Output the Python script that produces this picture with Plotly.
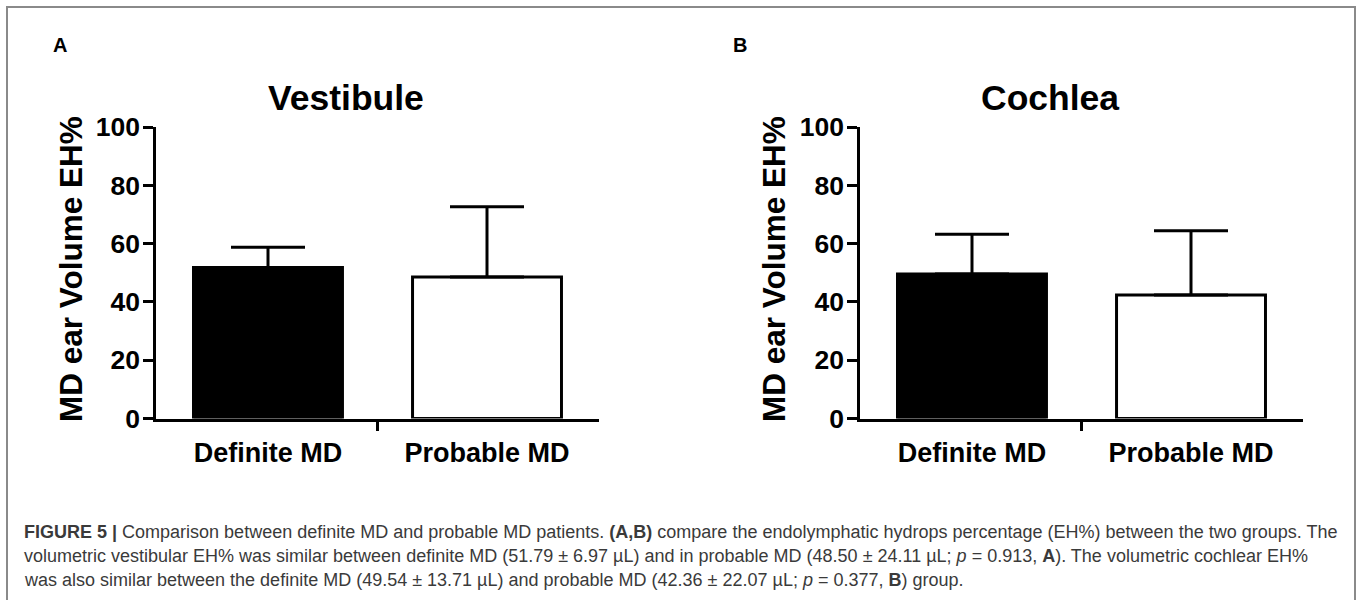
import plotly.graph_objects as go

# ---------------- data ----------------
categories = ["Definite MD", "Probable MD"]
vestibule_mean = [51.79, 48.50]
vestibule_sd = [6.97, 24.11]
cochlea_mean = [49.54, 42.36]
cochlea_sd = [13.71, 22.07]
y_ticks = [0, 20, 40, 60, 80, 100]
panel_titles = ["Vestibule", "Cochlea"]
panel_letters = ["A", "B"]
y_title = "MD ear Volume EH%"

caption_lines = [
    "<b>FIGURE 5 |</b> Comparison between definite MD and probable MD patients. <b>(A,B)</b> compare the endolymphatic hydrops percentage (EH%) between the two groups. The",
    "volumetric vestibular EH% was similar between definite MD (51.79 ± 6.97 µL) and in probable MD (48.50 ± 24.11 µL; <i>p</i> = 0.913, <b>A</b>). The volumetric cochlear EH%",
    "was also similar between the definite MD (49.54 ± 13.71 µL) and probable MD (42.36 ± 22.07 µL; <i>p</i> = 0.377, <b>B</b>) group.",
]

# ---------------- layout helpers ----------------
W, H = 1357, 600
FONT = "Liberation Sans, Arial, sans-serif"
fills = ["black", "white"]


def px(x):
    return x / W


def py(y):
    return 1 - y / H


fig = go.Figure()
xs = list(range(len(categories)))

panels = [
    dict(mean=vestibule_mean, sd=vestibule_sd, xdom=[156.3, 598.7], title_x=346, ytitle_x=71, letter_x=60),
    dict(mean=cochlea_mean, sd=cochlea_sd, xdom=[860.3, 1302.7], title_x=1050, ytitle_x=774, letter_x=740),
]

annotations = []
for i, p in enumerate(panels):
    xa = "x" if i == 0 else "x2"
    ya = "y" if i == 0 else "y2"
    fig.add_trace(go.Bar(
        x=xs, y=p["mean"], width=0.68,
        marker=dict(color=fills, line=dict(color="black", width=3)),
        error_y=dict(type="data", symmetric=False, array=p["sd"], arrayminus=[0] * len(xs),
                     color="black", thickness=3, width=37),
        xaxis=xa, yaxis=ya, showlegend=False, hoverinfo="skip",
    ))
    axis_x = dict(
        domain=[px(p["xdom"][0]), px(p["xdom"][1])], range=[-0.51, 1.51],
        anchor=ya, showline=True, linecolor="black", linewidth=3,
        showgrid=False, zeroline=False, automargin=False,
        tickmode="array", tickvals=xs, ticktext=categories, ticks="",
        tickfont=dict(family=FONT, size=27, color="black", weight="bold"),
        ticklabelstandoff=8,
        minor=dict(tickmode="array", tickvals=[0.5], ticks="outside", ticklen=9,
                   tickwidth=3, tickcolor="black", showgrid=False),
        fixedrange=True,
    )
    axis_y = dict(
        domain=[py(418.5), py(127)], range=[0, 100],
        anchor=xa, showline=True, linecolor="black", linewidth=3,
        showgrid=False, zeroline=False, automargin=False,
        tickmode="array", tickvals=y_ticks, ticks="outside", ticklen=10,
        tickwidth=3, tickcolor="black", ticklabelstandoff=-2,
        tickfont=dict(family=FONT, size=26.5, color="black", weight="bold"),
        fixedrange=True,
    )
    if i == 0:
        fig.update_layout(xaxis=axis_x, yaxis=axis_y)
    else:
        fig.update_layout(xaxis2=axis_x, yaxis2=axis_y)

    annotations.append(dict(x=px(p["title_x"]), y=py(98), xref="paper", yref="paper",
                            text=panel_titles[i], showarrow=False, xanchor="center", yanchor="middle",
                            font=dict(family=FONT, size=35.5, color="black", weight="bold")))
    annotations.append(dict(x=px(p["ytitle_x"]), y=py(269), xref="paper", yref="paper",
                            text=y_title, showarrow=False, textangle=-90, xanchor="center", yanchor="middle",
                            font=dict(family=FONT, size=31.5, color="black", weight="bold")))
    annotations.append(dict(x=px(p["letter_x"]), y=py(45), xref="paper", yref="paper",
                            text=panel_letters[i], showarrow=False, xanchor="center", yanchor="middle",
                            font=dict(family=FONT, size=20, color="black", weight="bold")))

for j, line in enumerate(caption_lines):
    annotations.append(dict(x=px(22), y=py(532 + 24 * j), xref="paper", yref="paper",
                            text=line, showarrow=False, xanchor="left", yanchor="middle",
                            font=dict(family=FONT, size=18.0, color="#3a3a3a")))

fig.update_layout(
    width=W, height=H,
    margin=dict(l=0, r=0, t=0, b=0, pad=0, autoexpand=False),
    paper_bgcolor="white", plot_bgcolor="white",
    annotations=annotations,
    shapes=[dict(type="rect", xref="paper", yref="paper",
                 x0=px(7), x1=px(1355), y0=py(640), y1=py(7),
                 line=dict(color="#8a8a8a", width=2), fillcolor="rgba(0,0,0,0)", layer="below")],
)

fix_page = (
    "document.documentElement.style.margin='0';"
    "document.documentElement.style.overflow='hidden';"
    "document.body.style.margin='0';"
    "document.body.style.padding='0';"
    "document.body.style.overflow='hidden';"
    "var g=document.getElementById('{plot_id}');"
    "g.style.position='fixed';g.style.left='0px';g.style.top='0px';"
)

fig.write_html("out.html", config={"displayModeBar": False}, post_script=fix_page)
